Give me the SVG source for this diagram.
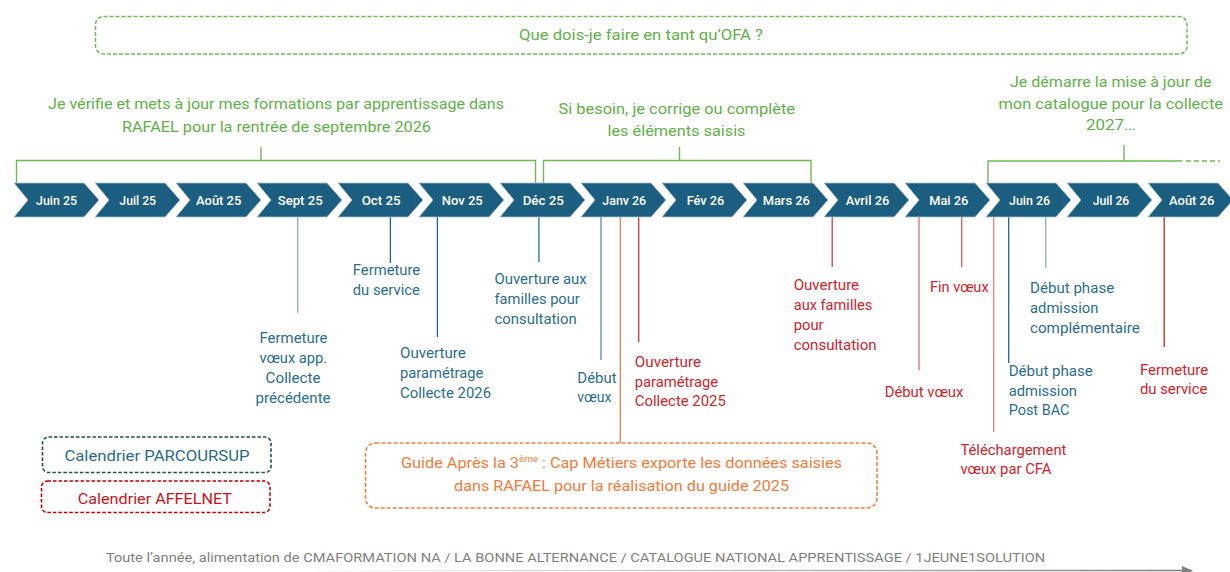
<svg xmlns="http://www.w3.org/2000/svg" width="1230" height="572" viewBox="0 0 1230 572">
<defs>
<style>
text{font-family:Roboto,"Liberation Sans",sans-serif}
.t{font-size:15px;fill:#5fb049}
.m{font-size:13px;fill:#ffffff;font-weight:500;text-anchor:middle}
.b{font-size:14px;fill:#2b6d8e}
.r{font-size:14px;fill:#d0232a}
.o{font-size:15px;fill:#ef7b3b}
.chev{fill:#1b5e80;stroke:#a9c3d2;stroke-width:0.8}
.br{fill:none;stroke:#6dba55;stroke-width:1.4}
.ev{fill:none;stroke-width:1.3}
</style>
<linearGradient id="gl" gradientUnits="userSpaceOnUse" x1="300" y1="0" x2="1190" y2="0">
<stop offset="0" stop-color="#7f7f7f" stop-opacity="0"/>
<stop offset="1" stop-color="#7f7f7f" stop-opacity="1"/>
</linearGradient>
</defs>
<rect width="1230" height="572" fill="#ffffff"/>

<g id="title">
<rect x="95.5" y="16.5" width="1091.5" height="37.5" rx="8" fill="none" stroke="#6dba55" stroke-width="1.5" stroke-dasharray="4 2"/>
<text class="t" x="519" y="40" textLength="244" lengthAdjust="spacingAndGlyphs">Que dois-je faire en tant qu’OFA ?</text>
</g>

<g id="green-verify">
<text class="t" x="48" y="109" textLength="456" lengthAdjust="spacingAndGlyphs">Je vérifie et mets à jour mes formations par apprentissage dans</text>
<text class="t" x="122" y="132" textLength="309" lengthAdjust="spacingAndGlyphs">RAFAEL pour la rentrée de septembre 2026</text>
</g>
<g id="green-correct">
<text class="t" x="558.5" y="114" textLength="236.5" lengthAdjust="spacingAndGlyphs">Si besoin, je corrige ou complète</text>
<text class="t" x="607.5" y="136" textLength="138" lengthAdjust="spacingAndGlyphs">les éléments saisis</text>
</g>
<g id="green-start">
<text class="t" x="1010" y="87" textLength="201.6" lengthAdjust="spacingAndGlyphs">Je démarre la mise à jour de</text>
<text class="t" x="998.4" y="109" textLength="224.6" lengthAdjust="spacingAndGlyphs">mon catalogue pour la collecte</text>
<text class="t" x="1086" y="130" textLength="49.4" lengthAdjust="spacingAndGlyphs">2027…</text>
</g>

<g id="connectors">
<path class="br" d="M16.5,183 V160.5 H535.5 V183 M261,147 V160.5"/>
<path class="br" d="M543.5,183 V160.5 H811 V183 M679.5,147 V160.5"/>
<path class="br" d="M988,183 V161 H1182 M1124,145 V161"/>
<path class="br" d="M1186,161 H1220" stroke-dasharray="5 3"/>
<path class="ev" stroke="#86aec4" d="M297.7,217 V313"/>
<path class="ev" stroke="#1f6587" d="M390.4,217 V263"/>
<path class="ev" stroke="#1f6587" d="M437.4,217 V337"/>
<path class="ev" stroke="#2a6e8f" d="M538.9,217 V262"/>
<path class="ev" stroke="#5b8aa6" d="M601,217 V360"/>
<path class="ev" stroke="#f07c3c" d="M620.3,217 V443"/>
<path class="ev" stroke="#e0303a" d="M638.7,217 V342"/>
<path class="ev" stroke="#d63a3a" d="M832.2,217 V267"/>
<path class="ev" stroke="#e06a6a" d="M919,217 V370"/>
<path class="ev" stroke="#e05a5a" d="M961.7,217 V267"/>
<path class="ev" stroke="#e08080" d="M993.7,217 V432"/>
<path class="ev" stroke="#1f6587" d="M1008.7,217 V363"/>
<path class="ev" stroke="#86aec4" d="M1045.8,217 V268"/>
<path class="ev" stroke="#cc2222" d="M1164.2,217 V347"/>
<path d="M300,570.5 H1184" stroke="url(#gl)" stroke-width="1.5" fill="none"/>
<polygon points="1182,566 1193,570.8 1182,575.6" fill="#7f7f7f"/>
</g>

<g id="timeline">
<g id="m-juin25"><path class="chev" d="M14,183 H84 L99,200 L84,217 H14 L28,200 Z"/><text class="m" x="56.5" y="205" textLength="41" lengthAdjust="spacingAndGlyphs">Juin 25</text></g>
<g id="m-juil25"><path class="chev" d="M95,183 H165 L180,200 L165,217 H95 L109,200 Z"/><text class="m" x="137.7" y="205" textLength="36.7" lengthAdjust="spacingAndGlyphs">Juil 25</text></g>
<g id="m-aout25"><path class="chev" d="M176,183 H246 L261,200 L246,217 H176 L190,200 Z"/><text class="m" x="218.7" y="205" textLength="45.3" lengthAdjust="spacingAndGlyphs">Août 25</text></g>
<g id="m-sept25"><path class="chev" d="M257,183 H327 L342,200 L327,217 H257 L271,200 Z"/><text class="m" x="300.2" y="205" textLength="45" lengthAdjust="spacingAndGlyphs">Sept 25</text></g>
<g id="m-oct25"><path class="chev" d="M338,183 H408 L423,200 L408,217 H338 L352,200 Z"/><text class="m" x="381.2" y="205" textLength="39" lengthAdjust="spacingAndGlyphs">Oct 25</text></g>
<g id="m-nov25"><path class="chev" d="M419,183 H489 L504,200 L489,217 H419 L433,200 Z"/><text class="m" x="462.2" y="205" textLength="41" lengthAdjust="spacingAndGlyphs">Nov 25</text></g>
<g id="m-dec25"><path class="chev" d="M500,183 H570 L585,200 L570,217 H500 L514,200 Z"/><text class="m" x="543.3" y="205" textLength="41.3" lengthAdjust="spacingAndGlyphs">Déc 25</text></g>
<g id="m-janv26"><path class="chev" d="M581,183 H651 L666,200 L651,217 H581 L595,200 Z"/><text class="m" x="624.2" y="205" textLength="43.7" lengthAdjust="spacingAndGlyphs">Janv 26</text></g>
<g id="m-fev26"><path class="chev" d="M662,183 H732 L747,200 L732,217 H662 L676,200 Z"/><text class="m" x="705.5" y="205" textLength="37.6" lengthAdjust="spacingAndGlyphs">Fév 26</text></g>
<g id="m-mars26"><path class="chev" d="M743,183 H813 L828,200 L813,217 H743 L757,200 Z"/><text class="m" x="786.3" y="205" textLength="47.3" lengthAdjust="spacingAndGlyphs">Mars 26</text></g>
<g id="m-avril26"><path class="chev" d="M824,183 H894 L909,200 L894,217 H824 L838,200 Z"/><text class="m" x="867.5" y="205" textLength="43.6" lengthAdjust="spacingAndGlyphs">Avril 26</text></g>
<g id="m-mai26"><path class="chev" d="M905,183 H975 L990,200 L975,217 H905 L919,200 Z"/><text class="m" x="948.8" y="205" textLength="39" lengthAdjust="spacingAndGlyphs">Mai 26</text></g>
<g id="m-juin26"><path class="chev" d="M986,183 H1056 L1071,200 L1056,217 H986 L1000,200 Z"/><text class="m" x="1029.5" y="205" textLength="41" lengthAdjust="spacingAndGlyphs">Juin 26</text></g>
<g id="m-juil26"><path class="chev" d="M1067,183 H1137 L1152,200 L1137,217 H1067 L1081,200 Z"/><text class="m" x="1111" y="205" textLength="36.6" lengthAdjust="spacingAndGlyphs">Juil 26</text></g>
<g id="m-aout26"><path class="chev" d="M1148,183 H1218 L1233,200 L1218,217 H1148 L1162,200 Z"/><text class="m" x="1191.7" y="205" textLength="45.3" lengthAdjust="spacingAndGlyphs">Août 26</text></g>
</g>

<g id="ev-fermeture-voeux" class="b">
<text x="259.5" y="343" textLength="68" lengthAdjust="spacingAndGlyphs">Fermeture</text>
<text x="259.5" y="363" textLength="67.7" lengthAdjust="spacingAndGlyphs">vœux app.</text>
<text x="265.6" y="383" textLength="55" lengthAdjust="spacingAndGlyphs">Collecte</text>
<text x="255.6" y="403" textLength="75" lengthAdjust="spacingAndGlyphs">précédente</text>
</g>
<g id="ev-fermeture-service-ps" class="b">
<text x="352.8" y="275" textLength="67.4" lengthAdjust="spacingAndGlyphs">Fermeture</text>
<text x="352.8" y="295" textLength="67" lengthAdjust="spacingAndGlyphs">du service</text>
</g>
<g id="ev-ouverture-param-2026" class="b">
<text x="400" y="358" textLength="65.8" lengthAdjust="spacingAndGlyphs">Ouverture</text>
<text x="400" y="378" textLength="83.3" lengthAdjust="spacingAndGlyphs">paramétrage</text>
<text x="400" y="398" textLength="91" lengthAdjust="spacingAndGlyphs">Collecte 2026</text>
</g>
<g id="ev-ouverture-familles-ps" class="b">
<text x="494.5" y="284" textLength="92.2" lengthAdjust="spacingAndGlyphs">Ouverture aux</text>
<text x="494.5" y="304" textLength="85.3" lengthAdjust="spacingAndGlyphs">familles pour</text>
<text x="494.5" y="324" textLength="82.2" lengthAdjust="spacingAndGlyphs">consultation</text>
</g>
<g id="ev-debut-voeux-ps" class="b">
<text x="577.3" y="383" textLength="39.4" lengthAdjust="spacingAndGlyphs">Début</text>
<text x="577.3" y="402" textLength="34.3" lengthAdjust="spacingAndGlyphs">vœux</text>
</g>
<g id="ev-ouverture-param-2025" class="r">
<text x="634.8" y="367" textLength="66.2" lengthAdjust="spacingAndGlyphs">Ouverture</text>
<text x="634.8" y="387" textLength="83.3" lengthAdjust="spacingAndGlyphs">paramétrage</text>
<text x="634.8" y="406" textLength="91" lengthAdjust="spacingAndGlyphs">Collecte 2025</text>
</g>
<g id="ev-ouverture-familles-af" class="r">
<text x="793.7" y="290" textLength="65.4" lengthAdjust="spacingAndGlyphs">Ouverture</text>
<text x="793.7" y="310" textLength="78.6" lengthAdjust="spacingAndGlyphs">aux familles</text>
<text x="793.7" y="330" textLength="29.9" lengthAdjust="spacingAndGlyphs">pour</text>
<text x="793.7" y="350" textLength="82.9" lengthAdjust="spacingAndGlyphs">consultation</text>
</g>
<g id="ev-debut-voeux-af" class="r">
<text x="884.7" y="397" textLength="78.7" lengthAdjust="spacingAndGlyphs">Début vœux</text>
</g>
<g id="ev-fin-voeux" class="r">
<text x="930" y="292" textLength="58.6" lengthAdjust="spacingAndGlyphs">Fin vœux</text>
</g>
<g id="ev-telechargement" class="r">
<text x="960.4" y="455" textLength="106" lengthAdjust="spacingAndGlyphs">Téléchargement</text>
<text x="960.4" y="474" textLength="91" lengthAdjust="spacingAndGlyphs">vœux par CFA</text>
</g>
<g id="ev-postbac" class="b">
<text x="1008.7" y="376" textLength="84.2" lengthAdjust="spacingAndGlyphs">Début phase</text>
<text x="1008.7" y="396" textLength="68.3" lengthAdjust="spacingAndGlyphs">admission</text>
<text x="1008.7" y="415" textLength="60.7" lengthAdjust="spacingAndGlyphs">Post BAC</text>
</g>
<g id="ev-complementaire" class="b">
<text x="1030" y="293" textLength="84.2" lengthAdjust="spacingAndGlyphs">Début phase</text>
<text x="1030" y="313" textLength="68.4" lengthAdjust="spacingAndGlyphs">admission</text>
<text x="1030" y="333" textLength="109.8" lengthAdjust="spacingAndGlyphs">complémentaire</text>
</g>
<g id="ev-fermeture-service-af" class="r">
<text x="1139.9" y="375" textLength="68.3" lengthAdjust="spacingAndGlyphs">Fermeture</text>
<text x="1139.9" y="394" textLength="67.5" lengthAdjust="spacingAndGlyphs">du service</text>
</g>

<g id="legend-parcoursup">
<rect x="42.5" y="437" width="228.5" height="35.5" rx="6" fill="none" stroke="#1f4e63" stroke-width="1.6" stroke-dasharray="3.5 2"/>
<text x="64.4" y="461" font-size="15.5" fill="#2a6a8a" textLength="185.2" lengthAdjust="spacingAndGlyphs">Calendrier PARCOURSUP</text>
</g>
<g id="legend-affelnet">
<rect x="41.5" y="481" width="228.5" height="31.5" rx="6" fill="none" stroke="#c00000" stroke-width="1.6" stroke-dasharray="3.5 2"/>
<text x="77.8" y="504" font-size="15.5" fill="#c8141c" textLength="154.2" lengthAdjust="spacingAndGlyphs">Calendrier AFFELNET</text>
</g>
<g id="guide">
<rect x="365.5" y="443" width="511.5" height="65" rx="10" fill="none" stroke="#f0803c" stroke-width="1.6" stroke-dasharray="4 2"/>
<text class="o" x="401" y="468" textLength="441" lengthAdjust="spacingAndGlyphs">Guide Après la 3<tspan font-size="9" dy="-6">ème</tspan><tspan dy="6"> : Cap Métiers exporte les données saisies</tspan></text>
<text class="o" x="454" y="491" textLength="335" lengthAdjust="spacingAndGlyphs">dans RAFAEL pour la réalisation du guide 2025</text>
</g>
<g id="footer">
<text x="105.9" y="562" font-size="13" fill="#7f7f7f" textLength="939.3" lengthAdjust="spacingAndGlyphs">Toute l’année, alimentation de CMAFORMATION NA / LA BONNE ALTERNANCE / CATALOGUE NATIONAL APPRENTISSAGE / 1JEUNE1SOLUTION</text>
</g>
</svg>
